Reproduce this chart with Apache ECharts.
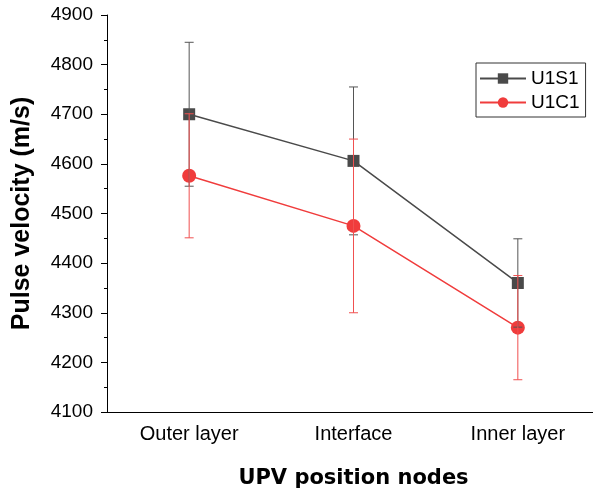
<!DOCTYPE html>
<html>
<head>
<meta charset="utf-8">
<script src="https://cdn.jsdelivr.net/npm/echarts@6/dist/echarts.min.js"></script>
<style>
  html, body { margin: 0; padding: 0; background: #fff; }
  #chart { width: 593px; height: 489px; }
</style>
</head>
<body>
<div id="chart"></div>
<script>
// Pulse velocity measured at three positions across the section
const nodes = ['Outer layer', 'Interface', 'Inner layer'];
const u1s1Mean = [4700, 4606, 4360];
const u1s1Err = [145, 149, 89];
const u1c1Mean = [4576, 4475, 4270];
const u1c1Err = [125, 175, 105];
const yTicks = { min: 4100, max: 4900, step: 100 };

const grayColor = '#4a4a4a';
const redColor = '#f03c3c';

function errorData(mean, err) {
  return mean.map((m, i) => [i, m - err[i], m + err[i]]);
}

function errorBars(color) {
  return function (params, api) {
    const x = api.value(0);
    const lo = api.coord([x, api.value(1)]);
    const hi = api.coord([x, api.value(2)]);
    const hw = 4.5;
    const style = { stroke: color, lineWidth: 1 };
    return {
      type: 'group',
      children: [
        { type: 'line', shape: { x1: lo[0], y1: lo[1], x2: hi[0], y2: hi[1] }, style },
        { type: 'line', shape: { x1: hi[0] - hw, y1: hi[1], x2: hi[0] + hw, y2: hi[1] }, style },
        { type: 'line', shape: { x1: lo[0] - hw, y1: lo[1], x2: lo[0] + hw, y2: lo[1] }, style }
      ]
    };
  };
}

const chart = echarts.init(document.getElementById('chart'), null, { renderer: 'canvas' });
chart.setOption({
  animation: false,
  backgroundColor: '#ffffff',
  textStyle: { fontFamily: 'Liberation Sans, Arial, sans-serif' },
  // the plot area runs a little past the right edge of the canvas
  grid: { left: 107, width: 493, top: 15, bottom: 77, outerBoundsMode: 'none', containLabel: false },
  legend: {
    orient: 'vertical',
    left: 476,
    top: 63,
    padding: [6, 6, 5, 3],
    itemGap: 5,
    itemWidth: 46,
    itemHeight: 13,
    borderColor: '#333',
    borderWidth: 1,
    borderRadius: 0,
    textStyle: { fontSize: 19, color: '#000', fontFamily: 'Liberation Sans, Arial, sans-serif' },
    data: ['U1S1', 'U1C1']
  },
  xAxis: [
    {
      type: 'category',
      data: nodes,
      boundaryGap: true,
      name: 'UPV position nodes',
      nameLocation: 'middle',
      nameGap: 56,
      nameTextStyle: { fontSize: 21, fontWeight: 'bold', color: '#000', fontFamily: 'DejaVu Sans, sans-serif' },
      axisLine: { lineStyle: { color: '#000', width: 1 } },
      axisTick: { alignWithLabel: true, length: 6, lineStyle: { color: '#000' } },
      axisLabel: { fontSize: 20, color: '#000', margin: 12 },
      splitLine: { show: false }
    },
    {
      type: 'category',
      data: nodes,
      boundaryGap: true,
      position: 'bottom',
      axisLine: { show: false },
      axisTick: { length: 3, lineStyle: { color: '#000' } },
      axisLabel: { show: false },
      splitLine: { show: false }
    }
  ],
  yAxis: {
    type: 'value',
    min: yTicks.min,
    max: yTicks.max,
    interval: yTicks.step,
    name: 'Pulse velocity (m/s)',
    nameLocation: 'middle',
    nameGap: 72,
    nameTextStyle: { fontSize: 25, fontWeight: 'bold', color: '#000' },
    axisLine: { show: true, lineStyle: { color: '#000', width: 1 } },
    axisTick: { show: true, length: 6, lineStyle: { color: '#000' } },
    minorTick: { show: true, splitNumber: 2, length: 3, lineStyle: { color: '#000' } },
    axisLabel: { fontSize: 19, color: '#000', margin: 14, formatter: v => String(v) },
    splitLine: { show: false }
  },
  series: [
    {
      name: 'U1S1',
      type: 'line',
      data: u1s1Mean,
      symbol: 'rect',
      symbolSize: 12,
      z: 2,
      itemStyle: { color: grayColor },
      lineStyle: { color: grayColor, width: 1.5 }
    },
    {
      name: 'U1C1',
      type: 'line',
      data: u1c1Mean,
      symbol: 'circle',
      symbolSize: 14,
      z: 2,
      itemStyle: { color: redColor },
      lineStyle: { color: redColor, width: 1.5 }
    },
    {
      type: 'custom',
      name: 'U1S1 error',
      data: errorData(u1s1Mean, u1s1Err),
      renderItem: errorBars('#555555'),
      encode: { x: 0, y: [1, 2] },
      z: 3,
      silent: true
    },
    {
      type: 'custom',
      name: 'U1C1 error',
      data: errorData(u1c1Mean, u1c1Err),
      renderItem: errorBars('#f05050'),
      encode: { x: 0, y: [1, 2] },
      z: 4,
      silent: true
    }
  ]
});
</script>
</body>
</html>
